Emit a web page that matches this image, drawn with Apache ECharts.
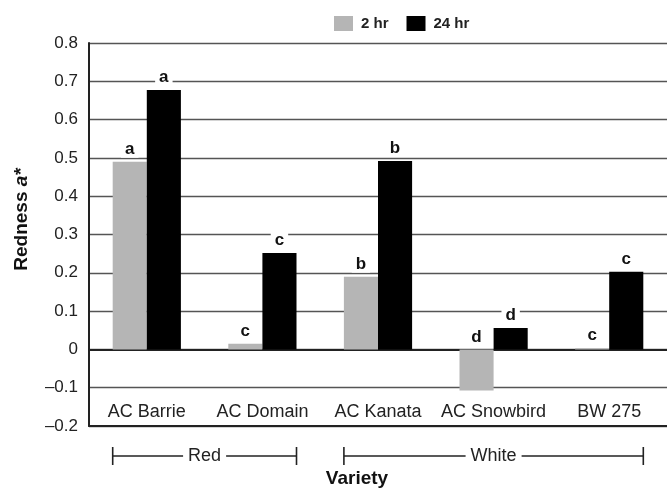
<!DOCTYPE html>
<html>
<head>
<meta charset="utf-8">
<script src="https://cdn.jsdelivr.net/npm/echarts@6/dist/echarts.min.js"></script>
<style>html,body{margin:0;padding:0;background:#fff;}#c{width:667px;height:493px;}</style>
</head>
<body>
<div id="c"></div>
<script>
var categories = ['AC Barrie', 'AC Domain', 'AC Kanata', 'AC Snowbird', 'BW 275'];
var seriesNames = ['2 hr', '24 hr'];
var values2hr = [0.49, 0.015, 0.19, -0.107, 0.003];
var values24hr = [0.677, 0.252, 0.492, 0.056, 0.203];
var letters2hr = ['a', 'c', 'b', 'd', 'c'];
var letters24hr = ['a', 'c', 'b', 'd', 'c'];
var groupNames = ['Red', 'White'];
var groupStart = [0, 2];
var groupEnd = [1, 4];

var FONT = 'Arial, "Liberation Sans", sans-serif';
var CAT_GAP = 0.41;

function fmtTick(v) {
  var r = Math.round(v * 10) / 10;
  if (r === 0) return '0';
  var s = Math.abs(r).toFixed(1);
  return r < 0 ? '\u2013' + s : s;
}

function labelCfg(letters) {
  return {
    show: true,
    position: 'top',
    distance: 4,
    formatter: function (p) { return letters[p.dataIndex]; },
    fontFamily: FONT,
    fontWeight: 'bold',
    fontSize: 17,
    color: '#111',
    backgroundColor: '#fff',
    padding: [0, 4, 0, 4]
  };
}

var chart = echarts.init(document.getElementById('c'), null, { renderer: 'canvas' });
var option = {
  animation: false,
  backgroundColor: '#fff',
  textStyle: { fontFamily: FONT },
  legend: {
    data: seriesNames,
    left: 329,
    top: 11,
    itemWidth: 19,
    itemHeight: 15,
    itemGap: 18,
    icon: 'rect',
    textStyle: { fontFamily: FONT, fontWeight: 'bold', fontSize: 15, color: '#222', padding: [0, 0, 0, 3] }
  },
  grid: { left: 89, right: -4, top: 43, bottom: 63, containLabel: false },
  xAxis: [{
    type: 'category',
    data: categories,
    position: 'bottom',
    axisLine: { show: true, onZero: false, lineStyle: { color: '#222', width: 2 } },
    axisTick: { show: false },
    axisLabel: { inside: true, margin: 5, fontFamily: FONT, fontSize: 18, color: '#222', interval: 0 },
    name: 'Variety',
    nameLocation: 'middle',
    nameGap: 43,
    nameTextStyle: { fontFamily: FONT, fontWeight: 'bold', fontSize: 19, color: '#111', padding: [0, 42, 0, 0] }
  }, {
    type: 'category',
    data: categories,
    position: 'top',
    axisLine: { show: true, lineStyle: { color: '#222', width: 2 } },
    axisTick: { show: false },
    axisLabel: { show: false }
  }],
  yAxis: {
    type: 'value',
    min: -0.2,
    max: 0.8,
    interval: 0.1,
    axisLine: { show: true, lineStyle: { color: '#222', width: 2 } },
    axisTick: { show: false },
    splitLine: { show: true, lineStyle: { color: '#555', width: 1.3 } },
    axisLabel: { formatter: fmtTick, margin: 11, fontFamily: FONT, fontSize: 17, color: '#222' },
    name: '{r|Redness }{i|a*}',
    nameLocation: 'middle',
    nameGap: 58,
    nameTextStyle: {
      padding: [0, 0, 0, 30],
      rich: {
        r: { fontFamily: FONT, fontWeight: 'bold', fontSize: 19, color: '#111' },
        i: { fontFamily: FONT, fontWeight: 'bold', fontStyle: 'italic', fontSize: 19, color: '#111' }
      }
    }
  },
  series: [{
    name: seriesNames[0],
    type: 'bar',
    xAxisIndex: 0,
    data: values2hr,
    barGap: '0%',
    barCategoryGap: (CAT_GAP * 100) + '%',
    itemStyle: { color: '#b5b5b5' },
    label: labelCfg(letters2hr),
    z: 3
  }, {
    name: seriesNames[1],
    type: 'bar',
    xAxisIndex: 0,
    data: values24hr,
    barGap: '0%',
    barCategoryGap: (CAT_GAP * 100) + '%',
    itemStyle: { color: '#000' },
    label: labelCfg(letters24hr),
    z: 3
  }]
};
chart.setOption(option);

// group brackets below the axis, positioned from the category scale
var c0 = chart.convertToPixel({ xAxisIndex: 0 }, 0);
var c1 = chart.convertToPixel({ xAxisIndex: 0 }, 1);
var band = c1 - c0;
var barW = band * (1 - CAT_GAP) / 2;
var BY = 456, TH = 9;
var elements = [];
for (var g = 0; g < groupNames.length; g++) {
  var x1 = chart.convertToPixel({ xAxisIndex: 0 }, groupStart[g]) - barW;
  var x2 = chart.convertToPixel({ xAxisIndex: 0 }, groupEnd[g]) + barW;
  var ls = { stroke: '#222', lineWidth: 1.6 };
  elements.push({ type: 'line', shape: { x1: x1, y1: BY, x2: x2, y2: BY }, style: ls, silent: true });
  elements.push({ type: 'line', shape: { x1: x1, y1: BY - TH, x2: x1, y2: BY + TH }, style: ls, silent: true });
  elements.push({ type: 'line', shape: { x1: x2, y1: BY - TH, x2: x2, y2: BY + TH }, style: ls, silent: true });
  elements.push({
    type: 'text', x: (x1 + x2) / 2, y: BY, z: 10, silent: true,
    style: {
      text: groupNames[g], fontFamily: FONT, fontSize: 18, fill: '#222',
      align: 'center', verticalAlign: 'middle',
      backgroundColor: '#fff', padding: [0, 5, 0, 5]
    }
  });
}
chart.setOption({ graphic: { elements: elements } });
</script>
</body>
</html>
